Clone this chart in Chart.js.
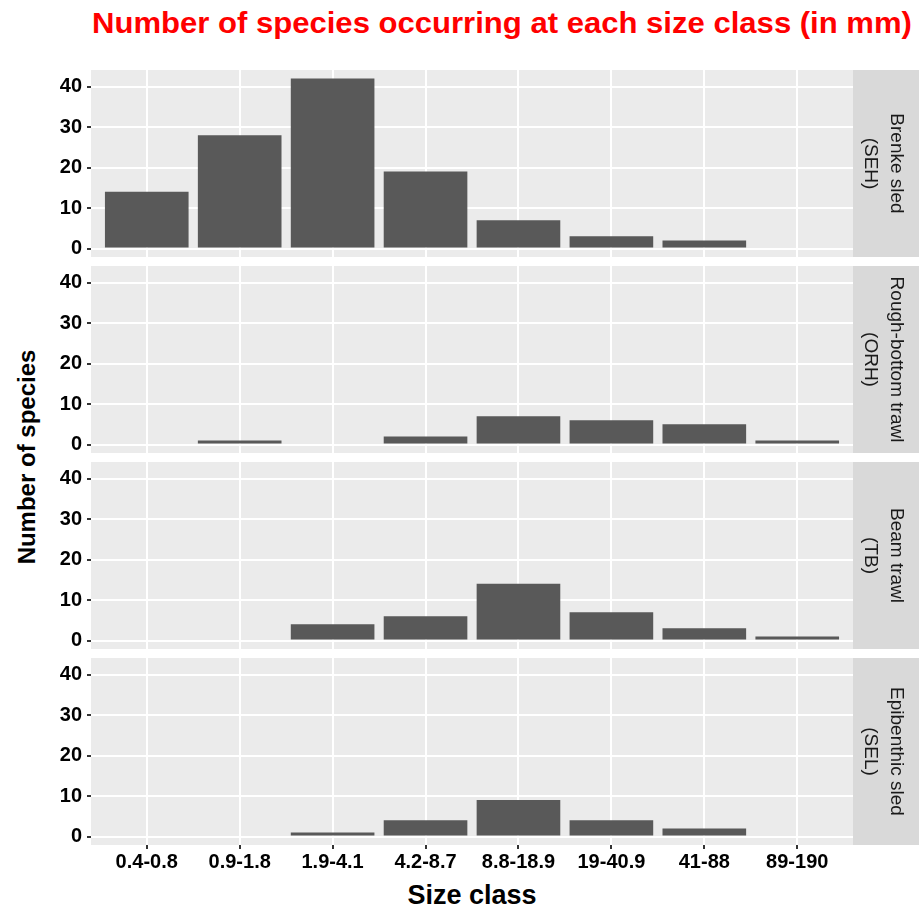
<!DOCTYPE html>
<html>
<head>
<meta charset="utf-8">
<script src="https://cdn.jsdelivr.net/npm/chart.js@4.4.0/dist/chart.umd.min.js"></script>
<style>
  html, body { margin: 0; padding: 0; background: #fff; }
  #wrap { position: relative; width: 922px; height: 913px; overflow: hidden;
          font-family: "Liberation Sans", Arial, sans-serif; }
  .txt { position: absolute; white-space: nowrap; line-height: 1; font-weight: bold; }
  #title { left: 92px; top: 8px; font-size: 30px; color: #ff0000; transform-origin: 0 0; }
  #xlab { left: 472px; top: 882px; font-size: 27px; color: #000; transform: translateX(-50%); }
  #ylab { left: 27px; top: 457px; font-size: 24px; color: #000;
          transform: translate(-50%, -50%) rotate(-90deg); }
  .panel { position: absolute; left: 0; }
  .panel canvas { display: block; }
</style>
</head>
<body>
<div id="wrap">
  <div id="title" class="txt">Number of species occurring at each size class (in mm)</div>
  <div id="ylab" class="txt">Number of species</div>
  <div id="xlab" class="txt">Size class</div>
</div>
<script>
/* ---------- data ---------- */
const sizeClasses = ["0.4-0.8", "0.9-1.8", "1.9-4.1", "4.2-8.7", "8.8-18.9", "19-40.9", "41-88", "89-190"];

const brenkeSled       = [14, 28, 42, 19, 7, 3, 2, 0];
const roughBottomTrawl = [0, 1, 0, 2, 7, 6, 5, 1];
const beamTrawl        = [0, 0, 4, 6, 14, 7, 3, 1];
const epibenthicSled   = [0, 0, 1, 4, 9, 4, 2, 0];

const gearLabels = [
  ["Brenke sled", "(SEH)"],
  ["Rough-bottom trawl", "(ORH)"],
  ["Beam trawl", "(TB)"],
  ["Epibenthic sled", "(SEL)"]
];

const yTicks = [0, 5, 10, 15, 20, 25, 30, 35, 40];

/* ---------- layout ---------- */
const FONT = '"Liberation Sans", Arial, sans-serif';
const panelTops = [70, 266, 462, 658];
const panelHeight = 187;
const stripWidth = 66;

// fit title to its width in the reference
const title = document.getElementById("title");
title.style.transform = "scaleX(" + (820 / title.scrollWidth) + ")";

// no extra room for the outer tick labels
function noPadding(s) {
  s.paddingTop = 0;
  s.paddingBottom = 0;
  s.paddingLeft = 0;
  s.paddingRight = 0;
}

/* ---------- panel background + strip ---------- */
const facetPlugin = {
  id: "facet",
  beforeDraw(chart, args, opts) {
    const { ctx, chartArea: a } = chart;
    ctx.save();
    ctx.fillStyle = "#ebebeb";
    ctx.fillRect(a.left, a.top, a.right - a.left, a.bottom - a.top);
    ctx.fillStyle = "#d9d9d9";
    ctx.fillRect(a.right, a.top, stripWidth, a.bottom - a.top);

    ctx.translate(a.right + 30, (a.top + a.bottom) / 2);
    ctx.rotate(Math.PI / 2);
    ctx.fillStyle = "#1a1a1a";
    ctx.font = "19px " + FONT;
    ctx.textAlign = "center";
    ctx.textBaseline = "middle";
    ctx.fillText(opts.lines[0], 0, -13);
    ctx.fillText(opts.lines[1], 0, 13);
    ctx.restore();
  }
};

/* ---------- build one chart per gear ---------- */
const allSeries = [brenkeSled, roughBottomTrawl, beamTrawl, epibenthicSled];

allSeries.forEach((values, p) => {
  const isBottom = p === allSeries.length - 1;
  const h = panelHeight + (isBottom ? 30 : 0);

  const box = document.createElement("div");
  box.className = "panel";
  box.style.top = panelTops[p] + "px";
  const canvas = document.createElement("canvas");
  canvas.width = 922;
  canvas.height = h;
  box.appendChild(canvas);
  document.getElementById("wrap").appendChild(box);

  new Chart(canvas, {
    type: "bar",
    data: {
      datasets: [{
        data: values.map((v, i) => ({ x: i + 1, y: v })),
        backgroundColor: "#595959",
        borderWidth: 0,
        barPercentage: 0.9,
        categoryPercentage: 1.0
      }]
    },
    options: {
      responsive: false,
      animation: false,
      devicePixelRatio: 1,
      layout: { padding: { left: 0, right: 922 - 853, top: 0, bottom: 0 } },
      plugins: {
        legend: { display: false },
        tooltip: { enabled: false },
        facet: { lines: gearLabels[p] }
      },
      scales: {
        x: {
          type: "linear",
          offset: false,
          min: 0.4,
          max: 8.6,
          afterBuildTicks: s => { s.ticks = sizeClasses.map((c, i) => ({ value: i + 1 })); },
          afterFit: s => { s.height = isBottom ? 30 : 0; noPadding(s); },
          border: { display: false },
          grid: {
            offset: false,
            color: "#ffffff",
            lineWidth: 2,
            drawTicks: isBottom,
            tickColor: "#333333",
            tickLength: 4,
            tickWidth: 2
          },
          ticks: {
            display: isBottom,
            autoSkip: false,
            maxRotation: 0,
            padding: 1,
            color: "#000",
            font: { family: FONT, size: 20, weight: "bold" },
            callback: v => sizeClasses[v - 1]
          }
        },
        y: {
          min: -2.1,
          max: 44.1,
          afterBuildTicks: s => { s.ticks = yTicks.map(v => ({ value: v })); },
          afterFit: s => { s.width = 91; noPadding(s); },
          border: { display: false },
          grid: {
            color: "#ffffff",
            lineWidth: c => (c.tick && c.tick.value % 10 === 0 ? 2 : 1),
            tickColor: c => (c.tick && c.tick.value % 10 === 0 ? "#333333" : "rgba(0,0,0,0)"),
            tickLength: 4,
            tickWidth: 2
          },
          ticks: {
            padding: 5,
            color: "#000",
            font: { family: FONT, size: 20, weight: "bold" },
            callback: v => (v % 10 === 0 ? v : "")
          }
        }
      }
    },
    plugins: [facetPlugin]
  });
});
</script>
</body>
</html>
